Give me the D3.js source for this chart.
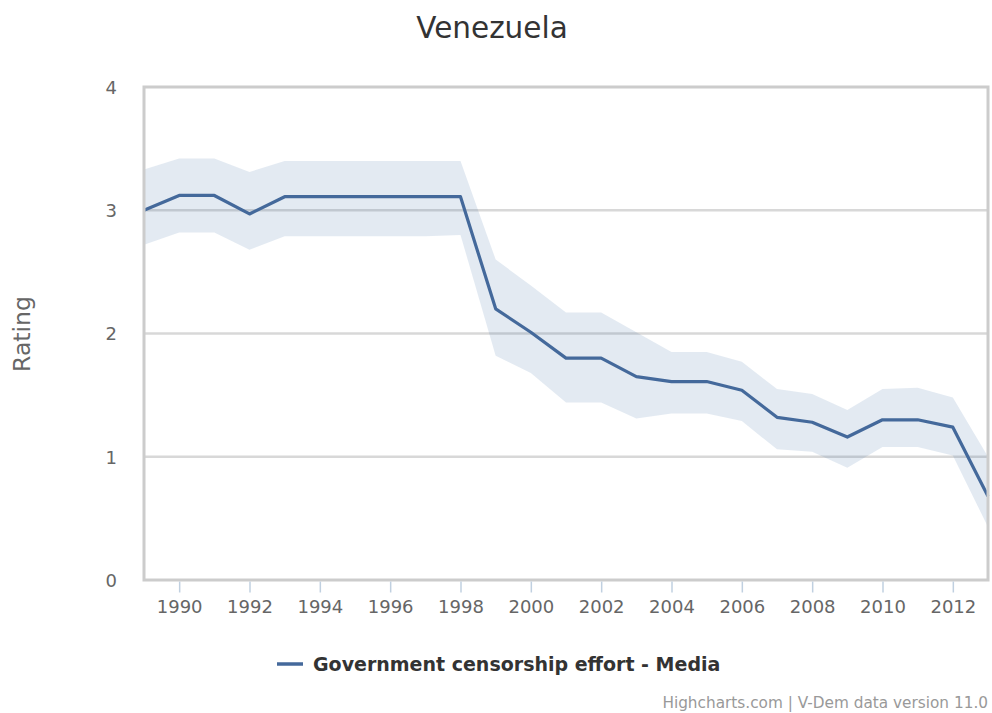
<!DOCTYPE html>
<html>
<head>
<meta charset="utf-8">
<script src="https://cdn.jsdelivr.net/npm/d3@7"></script>
<style>
  body{margin:0;background:#fff;}
  svg{display:block;font-family:"DejaVu Sans","Lucida Grande",sans-serif;}
</style>
</head>
<body>
<div id="chart"></div>
<script>
let years=[1989,1990,1991,1992,1993,1994,1995,1996,1997,1998,1999,2000,2001,2002,2003,2004,2005,2006,2007,2008,2009,2010,2011,2012,2013]
let rating=[3.0,3.12,3.12,2.97,3.11,3.11,3.11,3.11,3.11,3.11,2.2,2.01,1.8,1.8,1.65,1.61,1.61,1.54,1.32,1.28,1.16,1.3,1.3,1.24,0.68]
let upper=[3.33,3.42,3.42,3.31,3.4,3.4,3.4,3.4,3.4,3.4,2.6,2.39,2.17,2.17,2.01,1.85,1.85,1.77,1.55,1.51,1.38,1.55,1.56,1.48,1.0]
let lower=[2.72,2.82,2.82,2.68,2.79,2.79,2.79,2.79,2.79,2.8,1.82,1.68,1.44,1.44,1.31,1.35,1.35,1.29,1.06,1.04,0.91,1.08,1.08,1.01,0.43]
let xTicks=[1990,1992,1994,1996,1998,2000,2002,2004,2006,2008,2010,2012]
let yTicks=[0,1,2,3,4]

let w=992,h=713
let pl=144,pr=988,pt=87,pb=580
let font='"DejaVu Sans","Lucida Grande",sans-serif'
let svg=d3.select('#chart').append('svg').attr('width',w).attr('height',h)

let x=d3.scaleLinear().domain([1989,2013]).range([pl,pr])
let y=d3.scaleLinear().domain([0,4]).range([pb,pt])

// grid lines
svg.append('g').selectAll('line').data(yTicks.slice(1,4)).enter().append('line')
  .attr('x1',pl).attr('x2',pr)
  .attr('y1',d=>y(d)).attr('y2',d=>y(d))
  .attr('stroke','#d8d8d8').attr('stroke-width',2.5)

// band
let data=years.map((d,i)=>({yr:d,v:rating[i],hi:upper[i],lo:lower[i]}))
svg.append('path').datum(data)
  .attr('d',d3.area().x(d=>x(d.yr)).y0(d=>y(d.lo)).y1(d=>y(d.hi)))
  .attr('fill','#4572a7').attr('fill-opacity',0.15)

svg.append('path').datum(data)
  .attr('d',d3.line().x(d=>x(d.yr)).y(d=>y(d.v)))
  .attr('fill','none').attr('stroke','#44699b').attr('stroke-width',3.2)
  .attr('stroke-linejoin','round')

// plot border
svg.append('rect').attr('x',pl).attr('y',pt).attr('width',pr-pl).attr('height',pb-pt)
  .attr('fill','none').attr('stroke','#cccccc').attr('stroke-width',3)

// x axis
let xAxis=d3.axisBottom(x).tickValues(xTicks).tickFormat(d3.format('d')).tickSize(11).tickPadding(8)
let gx=svg.append('g').attr('transform','translate(0,'+(pb+1.5)+')').call(xAxis)
  .attr('font-family',font).attr('font-size',18)
gx.select('.domain').remove()
gx.selectAll('.tick line').attr('stroke','#c0d0e0').attr('stroke-width',1.5)
gx.selectAll('.tick text').attr('fill','#666').attr('dy','0.72em')

// y axis
let yAxis=d3.axisLeft(y).tickValues(yTicks).tickFormat(d3.format('d')).tickSize(0).tickPadding(27)
let gy=svg.append('g').attr('transform','translate('+pl+',0)').call(yAxis)
  .attr('font-family',font).attr('font-size',18)
gy.select('.domain').remove()
gy.selectAll('.tick text').attr('fill','#666').attr('dy','0.36em')

// title
svg.append('text').attr('x',492).attr('y',38).attr('text-anchor','middle')
  .attr('fill','#333').style('font-size','29.5px').text('Venezuela')

svg.append('text').attr('transform','translate(30,334) rotate(-90)').attr('text-anchor','middle')
  .attr('fill','#666').style('font-size','23.5px').text('Rating')

// legend
svg.append('line').attr('x1',277).attr('x2',303).attr('y1',664).attr('y2',664)
  .attr('stroke','#44699b').attr('stroke-width',3.5)
svg.append('text').attr('x',313).attr('y',671).attr('fill','#333')
  .style('font-size','19px').style('font-weight','bold').text('Government censorship effort - Media')

svg.append('text').attr('x',988).attr('y',708).attr('text-anchor','end')
  .attr('fill','#999').style('font-size','15.3px').text('Highcharts.com | V-Dem data version 11.0')
</script>
</body>
</html>
